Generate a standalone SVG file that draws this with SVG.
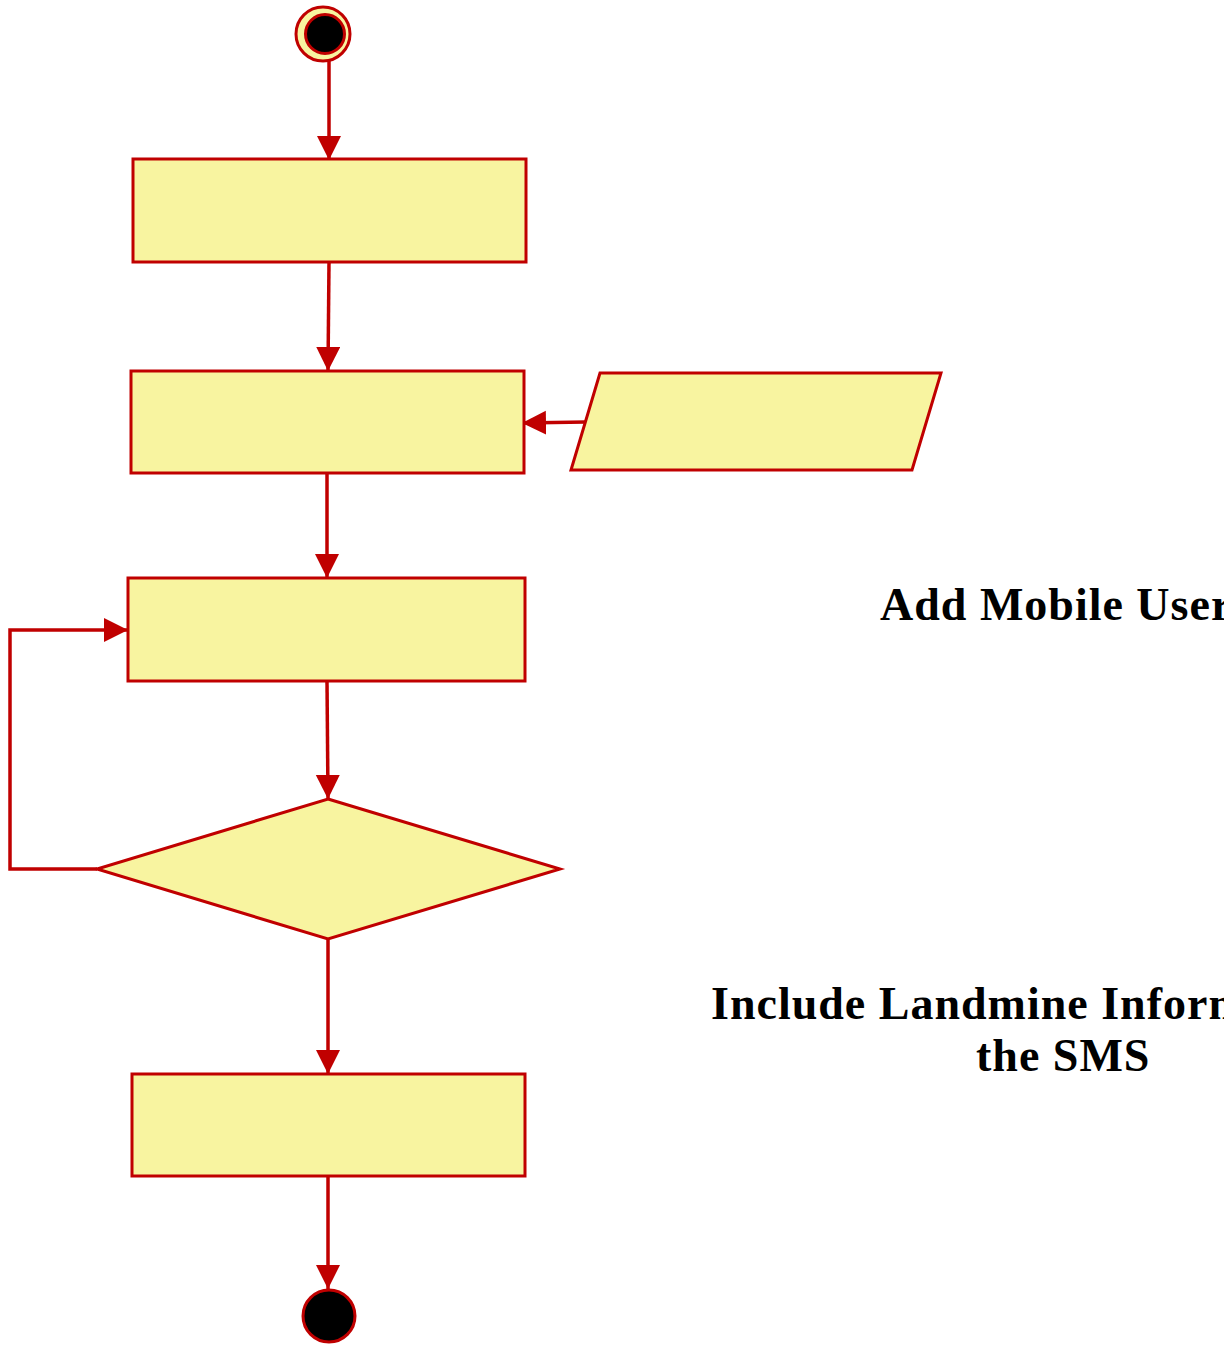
<svg xmlns="http://www.w3.org/2000/svg" width="1224" height="1346" viewBox="0 0 1224 1346">
<style>
.n{fill:#f8f4a0;stroke:#c00000;stroke-width:3}
.e{fill:none;stroke:#c00000;stroke-width:3.5}
.t{font-family:"Liberation Serif","Times New Roman",serif;font-weight:bold;font-size:46px;letter-spacing:1px;fill:#000}
</style>
<defs>
<marker id="ah" markerUnits="userSpaceOnUse" markerWidth="26" markerHeight="26" refX="24" refY="12" orient="auto">
<path d="M0,0 L24,12 L0,24 Z" fill="#c00000"/>
</marker>
</defs>
<rect width="1224" height="1346" fill="#fff"/>
<g id="connectors">
<line class="e" x1="329" y1="56" x2="329" y2="160" marker-end="url(#ah)"/>
<line class="e" x1="329" y1="262" x2="328" y2="371" marker-end="url(#ah)"/>
<line class="e" x1="327" y1="473" x2="327" y2="578" marker-end="url(#ah)"/>
<line class="e" x1="327" y1="681" x2="328" y2="799" marker-end="url(#ah)"/>
<line class="e" x1="328" y1="940" x2="328" y2="1074" marker-end="url(#ah)"/>
<line class="e" x1="328" y1="1176" x2="328" y2="1289" marker-end="url(#ah)"/>
<line class="e" x1="586" y1="422" x2="522" y2="423" marker-end="url(#ah)"/>
<polyline class="e" points="97,869 10,869 10,630 128,630" marker-end="url(#ah)"/>
</g>
<g id="start">
<circle class="n" cx="323" cy="34" r="27"/>
<circle cx="325" cy="34" r="19.5" fill="#000" stroke="#c00000" stroke-width="3"/>
</g>
<g id="step1"><rect class="n" x="133" y="159" width="393" height="103"/></g>
<g id="step2"><rect class="n" x="131" y="371" width="393" height="102"/></g>
<g id="input"><polygon class="n" points="600,373 941,373 912,470 571,470"/></g>
<g id="step3"><rect class="n" x="128" y="578" width="397" height="103"/></g>
<g id="decision"><polygon class="n" points="328,799 560,869 328,939 97,869"/></g>
<g id="step4"><rect class="n" x="132" y="1074" width="393" height="102"/></g>
<g id="end"><circle cx="329" cy="1316" r="26" fill="#000" stroke="#c00000" stroke-width="3"/></g>
<g id="labels">
<text class="t" x="880" y="620">Add Mobile User</text>
<text class="t" x="711" y="1019">Include Landmine Information in</text>
<text class="t" x="976" y="1071">the SMS</text>
</g>
</svg>
